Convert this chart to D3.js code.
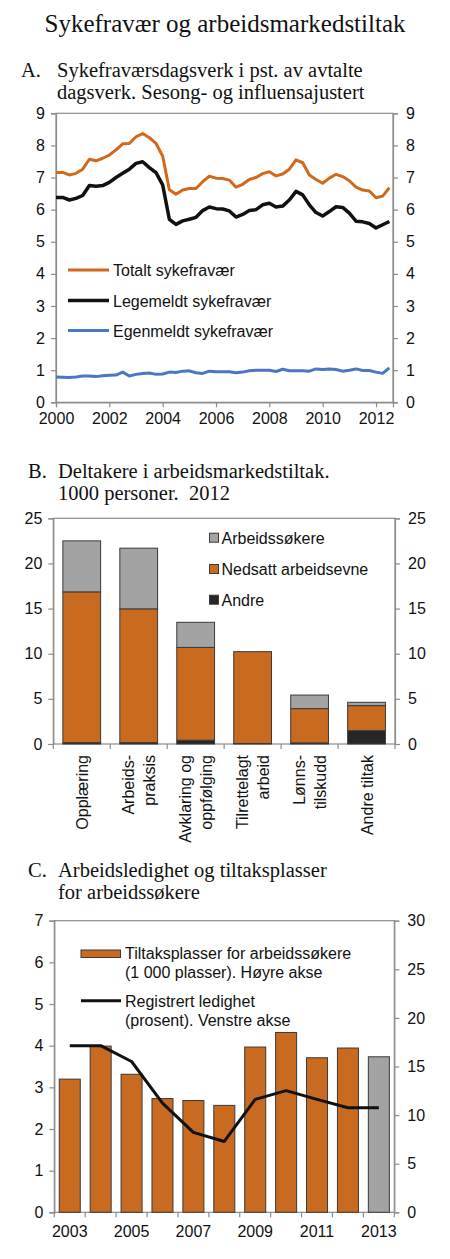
<!DOCTYPE html>
<html><head><meta charset="utf-8">
<script src="https://cdn.jsdelivr.net/npm/d3@7"></script>
<style>
html,body{margin:0;padding:0;background:#fff;}
svg{display:block;}
.serif{font-family:"Liberation Serif","Times New Roman",serif;fill:#111;white-space:pre;}
.sans{font-family:"Liberation Sans",Arial,sans-serif;fill:#111;}
</style>
</head><body>
<svg id="c" width="450" height="1259"></svg>
<script>
// ---------- Panel A data (quarterly, 2000K1 - 2012K3) ----------
const startYear = 2000;
const totalt = [7.16,7.16,7.08,7.13,7.26,7.57,7.52,7.60,7.70,7.86,8.05,8.06,8.27,8.37,8.24,8.06,7.67,6.62,6.48,6.61,6.66,6.66,6.87,7.04,6.98,6.97,6.92,6.70,6.79,6.94,7.00,7.12,7.18,7.05,7.11,7.26,7.55,7.46,7.08,6.94,6.82,6.98,7.10,7.03,6.90,6.70,6.61,6.58,6.37,6.42,6.68];
const legemeldt = [6.38,6.38,6.30,6.35,6.44,6.75,6.73,6.75,6.85,7.00,7.13,7.26,7.44,7.49,7.31,7.15,6.77,5.70,5.54,5.65,5.70,5.76,5.97,6.08,6.03,6.02,5.96,5.77,5.85,5.97,6.00,6.15,6.20,6.08,6.11,6.30,6.57,6.46,6.15,5.91,5.80,5.94,6.09,6.07,5.89,5.64,5.62,5.57,5.43,5.53,5.63];
const egenmeldt = [0.79,0.78,0.77,0.79,0.82,0.82,0.80,0.83,0.84,0.85,0.94,0.82,0.87,0.90,0.91,0.87,0.88,0.94,0.93,0.97,0.98,0.92,0.90,0.97,0.95,0.95,0.95,0.92,0.94,0.98,1.00,1.00,1.00,0.96,1.03,0.98,0.98,0.98,0.97,1.04,1.02,1.04,1.02,0.97,1.00,1.04,0.99,0.99,0.94,0.90,1.07];
const seriesA = ["Totalt sykefravær","Legemeldt sykefravær","Egenmeldt sykefravær"];
const yearTicksA = [2000,2002,2004,2006,2008,2010,2012];
const yTicksA = [0,1,2,3,4,5,6,7,8,9];

// ---------- Panel B data ----------
const tiltak = [["Opplæring"],["Arbeids-","praksis"],["Avklaring og","oppfølging"],["Tilrettelagt","arbeid"],["Lønns-","tilskudd"],["Andre tiltak"]];
const andre = [0.15,0.15,0.42,0.05,0.12,1.48];
const nedsatt = [16.70,14.82,10.28,10.18,3.80,2.77];
const arbeidssokere = [5.65,6.72,2.78,0,1.50,0.37];
const seriesB = ["Arbeidssøkere","Nedsatt arbeidsevne","Andre"];
const yTicksB = [0,5,10,15,20,25];

// ---------- Panel C data ----------
const aarC = ["2003","2004","2005","2006","2007","2008","2009","2010","2011","2012","2013"];
const tiltaksplasser = [13.7,17.1,14.2,11.7,11.5,11.0,17.0,18.5,15.9,16.9,16.0];
const ledighet = [4.0,4.0,3.62,2.62,1.92,1.70,2.71,2.92,2.71,2.51,2.51];
const xLabelsC = ["2003","2005","2007","2009","2011","2013"];
const yTicksCL = [0,1,2,3,4,5,6,7];
const yTicksCR = [0,5,10,15,20,25,30];

// ---------- styles ----------
const ORANGE = "#C96A21", LORANGE = "#D0691C", BLUE = "#4A76C4", GREY = "#A3A3A3", DARK = "#262626", AXIS = "#8c8c8c";
const svg = d3.select("#c");

function txt(x,y,s,size,cls,anchor){
  return svg.append("text").attr("x",x).attr("y",y).attr("class",cls)
    .attr("font-size",size).attr("text-anchor",anchor||"start").text(s);
}
function frame(l,r,t,b){
  svg.append("rect").attr("x",l).attr("y",t).attr("width",r-l).attr("height",b-t)
    .attr("fill","none").attr("stroke",AXIS).attr("stroke-width",1.2);
}
function yAxes(scaleL, ticksL, scaleR, ticksR, l, r){
  const gl = svg.append("g").attr("transform",`translate(${l},0)`)
    .call(d3.axisLeft(scaleL).tickValues(ticksL).tickSize(5).tickPadding(6).tickFormat(d3.format("d")));
  const gr = svg.append("g").attr("transform",`translate(${r},0)`)
    .call(d3.axisRight(scaleR).tickValues(ticksR).tickSize(5).tickPadding(8).tickFormat(d3.format("d")));
  [gl,gr].forEach(g=>{
    g.select(".domain").attr("stroke",AXIS).attr("stroke-width",1.2);
    g.selectAll(".tick line").attr("stroke",AXIS).attr("stroke-width",1.2);
    g.selectAll(".tick text").attr("font-family","'Liberation Sans',Arial,sans-serif").attr("font-size",16).attr("fill","#111");
  });
}

// ---------- Title ----------
txt(225,32,"Sykefravær og arbeidsmarkedstiltak",25,"serif","middle");

// ================= Panel A =================
txt(21,77,"A.",20.5,"serif");
txt(57,77,"Sykefraværsdagsverk i pst. av avtalte",20.5,"serif");
txt(57,98.5,"dagsverk. Sesong- og influensajustert",20.5,"serif");
const aL=56, aR=393, aT=113.3, aB=402.3;
const xA = d3.scaleLinear().domain([2000, 2000 + (aR-aL)/(106.67/4)]).range([aL,aR]);
const yA = d3.scaleLinear().domain([0,9]).range([aB,aT]);
frame(aL,aR,aT,aB);
yAxes(yA,yTicksA,yA,yTicksA,aL,aR);
const gxA = svg.append("g").attr("transform",`translate(0,${aB})`)
  .call(d3.axisBottom(xA).tickValues(yearTicksA).tickSize(5).tickPadding(5).tickFormat(d3.format("d")));
gxA.select(".domain").attr("stroke",AXIS).attr("stroke-width",1.2);
gxA.selectAll(".tick line").attr("stroke",AXIS).attr("stroke-width",1.2);
gxA.selectAll(".tick text").attr("font-family","'Liberation Sans',Arial,sans-serif").attr("font-size",16).attr("fill","#111");

const lineA = d3.line().x((d,i)=>xA(startYear + i/4)).y(d=>yA(d));
const colsA = [LORANGE,"#111",BLUE];
const widthsA = [3,3.5,3];
[totalt,legemeldt,egenmeldt].forEach((s,k)=>{
  svg.append("path").datum(s).attr("d",lineA).attr("fill","none")
    .attr("stroke",colsA[k]).attr("stroke-width",widthsA[k]).attr("stroke-linejoin","round");
});
// legend A
const legYA = [270,300.5,330.5];
seriesA.forEach((s,k)=>{
  svg.append("line").attr("x1",68).attr("x2",109).attr("y1",legYA[k]).attr("y2",legYA[k])
    .attr("stroke",colsA[k]).attr("stroke-width",widthsA[k]);
  txt(113,legYA[k]+6,s,16,"sans");
});

// ================= Panel B =================
txt(28,478,"B.",20.5,"serif");
txt(58,478,"Deltakere i arbeidsmarkedstiltak.",20.5,"serif");
txt(58,500,"1000 personer.\u00a0 2012",20.5,"serif");
const bL=53.3, bR=395, bT=518.3, bB=744;
const xB = d3.scaleBand().domain(d3.range(tiltak.length)).range([bL,bR]).paddingInner(0.337).paddingOuter(0.168);
const yB = d3.scaleLinear().domain([0,25]).range([bB,bT]);
frame(bL,bR,bT,bB);
yAxes(yB,yTicksB,yB,yTicksB,bL,bR);
// x ticks at boundaries
const stepB = (bR-bL)/tiltak.length;
d3.range(tiltak.length+1).forEach(i=>{
  svg.append("line").attr("x1",bL+i*stepB).attr("x2",bL+i*stepB).attr("y1",bB).attr("y2",bB+5)
    .attr("stroke",AXIS).attr("stroke-width",1.2);
});
const stackData = tiltak.map((t,i)=>({i, andre:andre[i], nedsatt:nedsatt[i], arbeidssokere:arbeidssokere[i]}));
const stackB = d3.stack().keys(["andre","nedsatt","arbeidssokere"])(stackData);
const colsB = {andre:DARK, nedsatt:ORANGE, arbeidssokere:GREY};
stackB.forEach(layer=>{
  svg.append("g").selectAll("rect").data(layer.filter(d=>d[1]-d[0]>0)).join("rect")
    .attr("x",d=>xB(d.data.i)).attr("width",xB.bandwidth())
    .attr("y",d=>yB(d[1])).attr("height",d=>yB(d[0])-yB(d[1]))
    .attr("fill",colsB[layer.key]).attr("stroke","#3a3a3a").attr("stroke-width",1);
});
// rotated labels
tiltak.forEach((lines,i)=>{
  const cx = xB(i)+xB.bandwidth()/2;
  const n = lines.length;
  lines.forEach((s,j)=>{
    const off = (j-(n-1)/2)*21.5;
    svg.append("text").attr("class","sans").attr("font-size",16).attr("text-anchor","end")
      .attr("transform",`translate(${cx+off+6},755) rotate(-90)`).text(s);
  });
});
// legend B
const legYB = [537.7,569,599.7];
const keysB = ["arbeidssokere","nedsatt","andre"];
seriesB.forEach((s,k)=>{
  svg.append("rect").attr("x",209.5).attr("y",legYB[k]-4.5).attr("width",9).attr("height",9)
    .attr("fill",colsB[keysB[k]]).attr("stroke","#3a3a3a").attr("stroke-width",1);
  txt(221.5,legYB[k]+6,s,16,"sans");
});

// ================= Panel C =================
txt(28,877,"C.",20.5,"serif");
txt(58,877,"Arbeidsledighet og tiltaksplasser",20.5,"serif");
txt(58,899,"for arbeidssøkere",20.5,"serif");
const cL=54.3, cR=394.3, cT=920.7, cB=1212.3;
const xC = d3.scaleBand().domain(aarC).range([cL,cR]).paddingInner(0.32).paddingOuter(0.16);
const yCL = d3.scaleLinear().domain([0,7]).range([cB,cT]);
const yCR = d3.scaleLinear().domain([0,30]).range([cB,cT]);
frame(cL,cR,cT,cB);
yAxes(yCL,yTicksCL,yCR,yTicksCR,cL,cR);
const stepC = (cR-cL)/aarC.length;
d3.range(aarC.length+1).forEach(i=>{
  svg.append("line").attr("x1",cL+i*stepC).attr("x2",cL+i*stepC).attr("y1",cB).attr("y2",cB+5)
    .attr("stroke",AXIS).attr("stroke-width",1.2);
});
xLabelsC.forEach(s=>{
  txt(xC(s)+xC.bandwidth()/2, cB+25, s, 16, "sans", "middle");
});
svg.append("g").selectAll("rect").data(aarC).join("rect")
  .attr("x",d=>xC(d)).attr("width",xC.bandwidth())
  .attr("y",(d,i)=>yCR(tiltaksplasser[i])).attr("height",(d,i)=>cB-yCR(tiltaksplasser[i]))
  .attr("fill",(d,i)=>i===aarC.length-1?GREY:ORANGE).attr("stroke","#3a3a3a").attr("stroke-width",1);
const lineC = d3.line().x((d,i)=>xC(aarC[i])+xC.bandwidth()/2).y(d=>yCL(d));
svg.append("path").datum(ledighet).attr("d",lineC).attr("fill","none")
  .attr("stroke","#111").attr("stroke-width",3).attr("stroke-linejoin","round");
// legend C
svg.append("rect").attr("x",81).attr("y",950).attr("width",39.5).attr("height",7.5)
  .attr("fill",ORANGE).attr("stroke","#3a3a3a").attr("stroke-width",1);
txt(125,958.5,"Tiltaksplasser for arbeidssøkere",16,"sans");
txt(125,977.5,"(1 000 plasser). Høyre akse",16,"sans");
svg.append("line").attr("x1",81).attr("x2",121).attr("y1",1000.7).attr("y2",1000.7)
  .attr("stroke","#111").attr("stroke-width",3);
txt(125,1006.5,"Registrert ledighet",16,"sans");
txt(125,1025.5,"(prosent). Venstre akse",16,"sans");
</script>
</body></html>
